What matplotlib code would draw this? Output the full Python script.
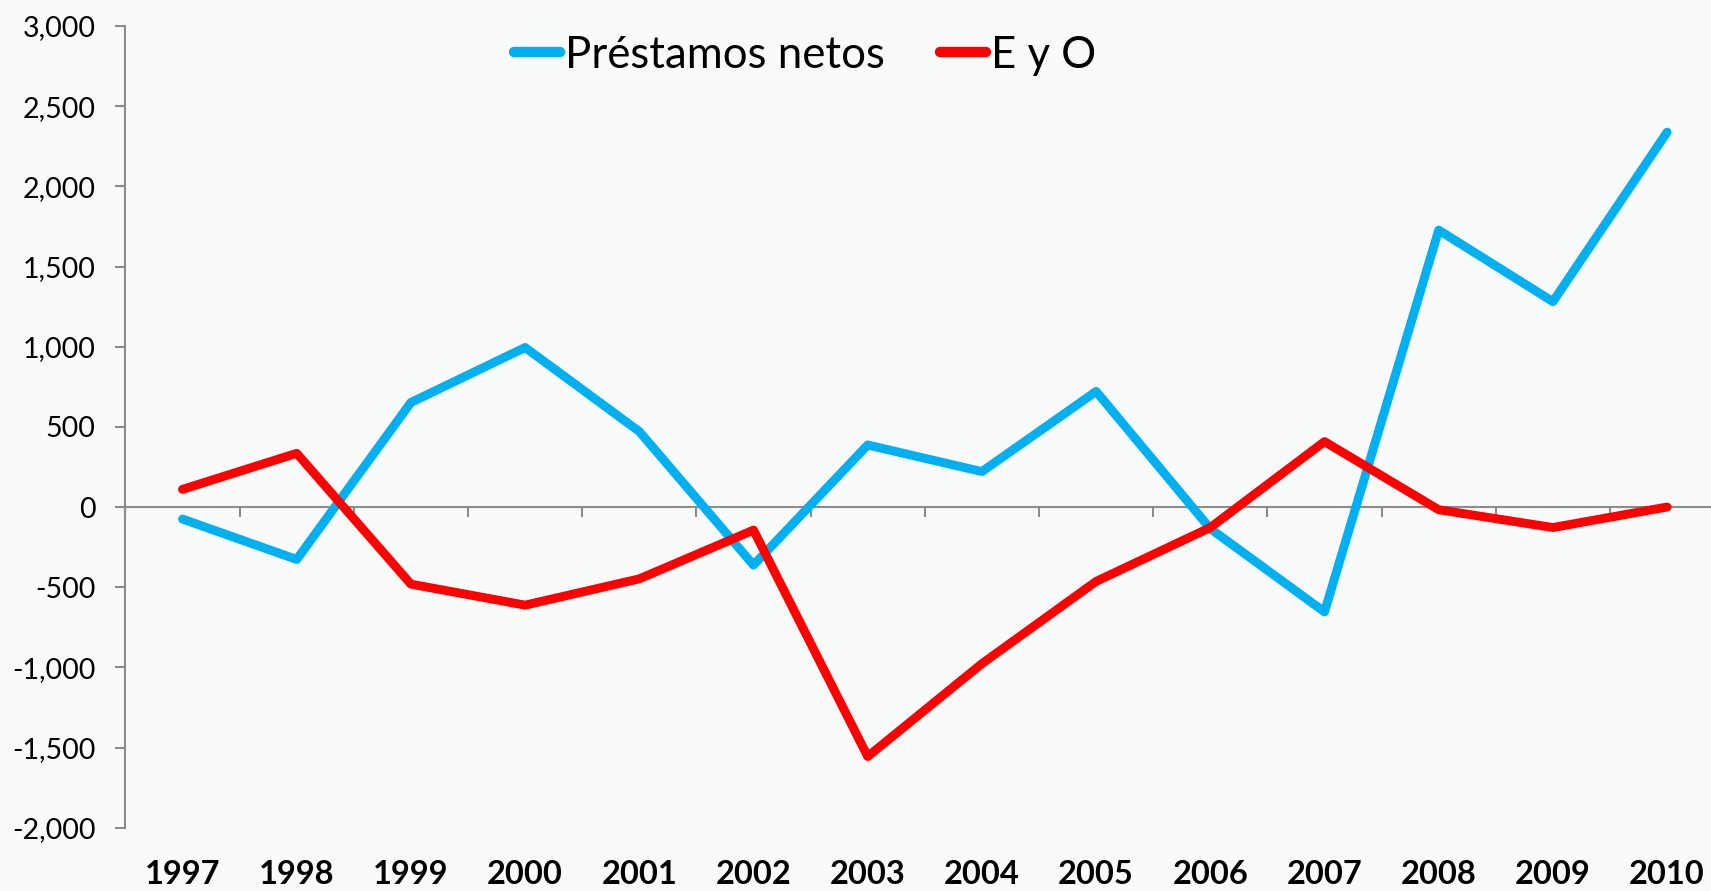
import matplotlib
matplotlib.use("Agg")
import matplotlib.pyplot as plt
from matplotlib.ticker import FuncFormatter
import numpy as np

years = ["1997", "1998", "1999", "2000", "2001", "2002", "2003",
         "2004", "2005", "2006", "2007", "2008", "2009", "2010"]
prestamos_netos = [-75, -327, 652, 995, 471, -362, 387, 221, 721, -135, -654, 1727, 1281, 2338]
e_y_o = [110, 335, -481, -612, -448, -144, -1556, -977, -464, -128, 408, -17, -128, 0]
series_names = ["Préstamos netos", "E y O"]

BG = "#F9FAFA"
AXC = "#8C8C8C"
W, H = 1711, 891
fig = plt.figure(figsize=(W / 100, H / 100), dpi=100, facecolor=BG)
plt.rcParams['font.family'] = ['Lato', 'DejaVu Sans']

left = 125.4 / W
right_px = 125.4 + 14 * 114.2
bottom = (H - 827.7) / H
top = (H - 26) / H
ax = fig.add_axes([left, bottom, (right_px - 125.4) / W, top - bottom])
ax.set_facecolor(BG)

x = np.arange(len(years))
ax.plot(x, prestamos_netos, color="#00B0F0", lw=6.4, solid_capstyle="round",
        solid_joinstyle="round", label=series_names[0], zorder=3)
ax.plot(x, e_y_o, color="#FF0000", lw=6.4, solid_capstyle="round",
        solid_joinstyle="round", label=series_names[1], zorder=3)

ax.set_xlim(-0.5, len(years) - 0.5)
ax.set_ylim(-2000, 3000)
ax.set_yticks(np.arange(-2000, 3001, 500))
ax.yaxis.set_major_formatter(FuncFormatter(lambda v, p: f"{int(v):,}"))

for s in ["top", "right", "bottom"]:
    ax.spines[s].set_visible(False)
ax.spines["left"].set_color(AXC)
ax.spines["left"].set_linewidth(1.5)
ax.tick_params(axis="y", direction="out", length=7.5, width=1.5, color=AXC,
               labelsize=20.5, pad=14, labelcolor="black")

ax.set_xticks(x)
ax.set_xticklabels(years, fontweight="bold", fontsize=23.5)
ax.tick_params(axis="x", length=0, pad=23, labelcolor="black")

# category axis at zero with tick marks between categories
sec = ax.secondary_xaxis(2000 / 5000)
sec.spines["bottom"].set_color(AXC)
sec.spines["bottom"].set_linewidth(1.5)
sec.set_xticks(np.arange(-0.5, len(years), 1.0))
sec.set_xticklabels([])
sec.tick_params(axis="x", direction="out", length=7.5, width=1.5, color=AXC)

leg = fig.legend(loc="center", bbox_to_anchor=(805 / W, (H - 55) / H),
                 ncol=2, frameon=False, fontsize=31.5, handlelength=1.05,
                 handletextpad=0.12, columnspacing=1.25)
for line in leg.get_lines():
    line.set_linewidth(7.5)
    line.set_solid_capstyle("round")

fig.savefig("out.png", dpi=100, facecolor=BG)
